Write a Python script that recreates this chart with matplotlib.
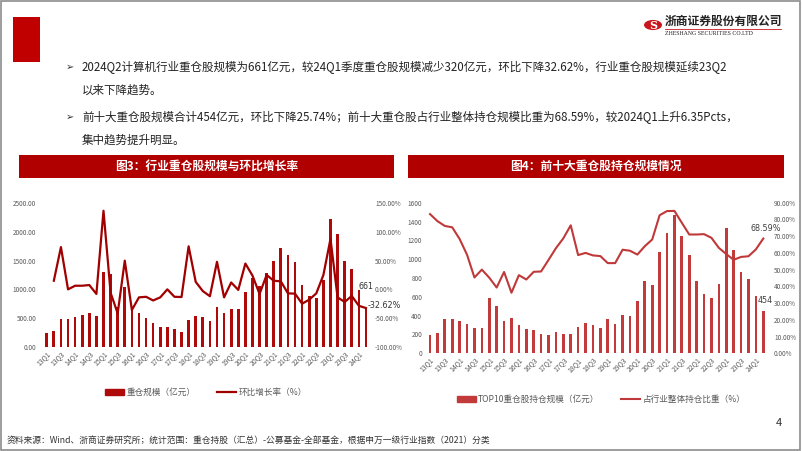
import numpy as np
import matplotlib
matplotlib.use("Agg")
import matplotlib.pyplot as plt
from matplotlib.patches import Rectangle, Circle
from matplotlib.lines import Line2D

plt.rcParams['font.family'] = ['Noto Sans CJK SC', 'DejaVu Sans']

W, H = 802, 451

# quarters 13Q1 .. 24Q2
quarters = [f"{y}Q{q}" for y in range(13, 25) for q in range(1, 5)][:46]

# Fig 3: industry heavy-holding size (100m yuan) and QoQ growth (%)
size_all = [235, 275, 477, 477, 511, 546, 592, 540, 1305, 1260,
            700, 1046, 665, 580, 506, 408, 350, 350, 305, 264,
            471, 534, 517, 454, 684, 586, 661, 655, 948, 1201,
            1058, 1293, 1500, 1724, 1592, 1477, 1075, 885, 850, 1155,
            2224, 1960, 1500, 1362, 981, 661]
qoq = [np.nan, 15, 73.6, 0, 6.3, 6.3, 7.5, -8, 137, -6,
       -42, 50, -36, -14, -13, -19.4, -14, 0, -13, -13.4,
       75, 13, -3, -12, 48, -14, 12, -1, 45, 24,
       -8, 25, 15, 14, -7, -7.5, -25, -18, -7, 25,
       88, -14, -22, -11.5, -28.7, -32.62]

# Fig 4: top10 holdings size and share of industry (%)
top10_size = [195, 220, 364, 364, 344, 311, 268, 273, 590, 498,
              339, 378, 302, 254, 247, 201, 194, 224, 210, 204,
              279, 321, 302, 265, 360, 312, 408, 397, 560, 765,
              730, 1077, 1277, 1474, 1241, 1048, 765, 632, 587, 733,
              1333, 1095, 860, 786, 605, 454]
top10_share = [83.2, 79.0, 76.1, 75.3, 68.3, 58.9, 45.3, 50.0, 45.2, 39.3,
               48.6, 36.2, 46.7, 44.1, 48.7, 48.9, 55.8, 62.8, 68.7, 76.5,
               58.7, 60.0, 58.5, 58.1, 53.9, 53.9, 61.9, 61.3, 59.0, 64.0,
               68.0, 82.5, 85.0, 85.1, 78.0, 71.0, 71.0, 71.2, 69.0, 63.0,
               59.3, 55.9, 57.6, 58.0, 62.1, 68.59]

bullet1 = ["2024Q2计算机行业重仓股规模为661亿元，较24Q1季度重仓股规模减少320亿元，环比下降32.62%，行业重仓股规模延续23Q2",
           "以来下降趋势。"]
bullet2 = ["前十大重仓股规模合计454亿元，环比下降25.74%；前十大重仓股占行业整体持仓规模比重为68.59%，较2024Q1上升6.35Pcts，",
           "集中趋势提升明显。"]
footer = "资料来源：Wind、浙商证券研究所；统计范围：重仓持股（汇总）-公募基金-全部基金，根据申万一级行业指数（2021）分类"

RED = '#B00000'
GREY = '#595959'


def fx(x):
    return x / W


def fy(y):
    return 1 - y / H


def axes_px(x0, y0, x1, y1):
    return fig.add_axes([fx(x0), fy(y1), (x1 - x0) / W, (y1 - y0) / H])


def style_axes(ax, ax2, xlabels):
    for a in (ax, ax2):
        for s in a.spines.values():
            s.set_visible(False)
        a.tick_params(length=0, labelsize=4.6, labelcolor=GREY)
    ax.set_xticks(np.arange(0, len(xlabels), 2))
    ax.set_xticklabels(xlabels[::2], rotation=45, ha='right', va='top',
                       rotation_mode='anchor', fontsize=5, color=GREY)
    ax.set_xlim(-0.5, len(xlabels) - 0.5)


fig = plt.figure(figsize=(W / 100, H / 100), dpi=100)
fig.patch.set_facecolor('white')

# slide frame and header
fig.patches.append(Rectangle((0.001, 0.002), 0.997, 0.996, transform=fig.transFigure,
                             fill=False, edgecolor='#8c8c8c', lw=1.2))
fig.patches.append(Rectangle((fx(13), fy(62)), 27 / W, 45 / H, transform=fig.transFigure,
                             facecolor='#C00000', edgecolor='none'))
fig.patches.append(Circle((fx(653), fy(25)), 9 / W, transform=fig.transFigure,
                          facecolor='#C8161D', edgecolor='none'))
fig.text(fx(653), fy(25.5), "S", color='white', fontsize=8, fontweight='bold',
         ha='center', va='center', family='DejaVu Serif')
fig.text(fx(665), fy(21), "浙商证券股份有限公司", fontsize=8.5, fontweight='bold',
         ha='left', va='center', color='#222222')
fig.lines.append(Line2D([fx(665), fx(781)], [fy(29), fy(29)], transform=fig.transFigure,
                        color='#C8161D', lw=0.6))
fig.text(fx(665), fy(33.5), "ZHESHANG SECURITIES CO.LTD", fontsize=4.2,
         ha='left', va='center', color='#222222', family='Liberation Serif')

# bullet text
for y0, lines in ((67, bullet1), (117, bullet2)):
    fig.text(fx(66), fy(y0), "➢", fontsize=7, ha='left', va='center',
             family=['DejaVu Sans'], color='#333333')
    for i, t in enumerate(lines):
        fig.text(fx(82), fy(y0 + 23 * i), t, fontsize=8.3, ha='left', va='center',
                 color='#222222')

# chart title bars
for x0, x1, title in ((19, 394, "图3：行业重仓股规模与环比增长率"),
                      (408, 784, "图4：前十大重仓股持仓规模情况")):
    fig.patches.append(Rectangle((fx(x0), fy(178)), (x1 - x0) / W, 23 / H,
                                 transform=fig.transFigure, facecolor=RED, edgecolor='none'))
    fig.text(fx((x0 + x1) / 2), fy(166.5), title, color='white', fontsize=8.5,
             fontweight='bold', ha='center', va='center')

x = np.arange(len(quarters))

# ---- Fig 3
ax1 = axes_px(43.2, 203.3, 369.5, 346.7)
ax1b = ax1.twinx()
ax1.bar(x, size_all, width=0.38, color='#AE0A0A', zorder=2)
ax1b.plot(x, qoq, color='#A00000', lw=1.6, zorder=3)
ax1.set_ylim(0, 2500)
ax1.set_yticks(np.arange(0, 2501, 500))
ax1.set_yticklabels([f"{v:.2f}" for v in np.arange(0, 2501, 500)])
ax1b.set_ylim(-100, 150)
ax1b.set_yticks(np.arange(-100, 151, 50))
ax1b.set_yticklabels([f"{v:.2f}%" for v in np.arange(-100, 151, 50)])
style_axes(ax1, ax1b, quarters)
ax1.tick_params(axis='y', pad=5)
ax1b.tick_params(axis='y', pad=4)
ax1.tick_params(axis='x', pad=2)
ax1b.set_zorder(ax1.get_zorder() + 1)
ax1b.patch.set_visible(False)
ax1.annotate(f"{size_all[-1]}", xy=(x[-1], size_all[-1]), xytext=(0, 16),
             textcoords='offset points', ha='center', va='center',
             fontsize=5.8, color='#333333', family='DejaVu Sans')
ax1b.annotate(f"{qoq[-1]:.2f}%", xy=(x[-1], qoq[-1]), xytext=(1, 1.5),
              textcoords='offset points', ha='left', va='center',
              fontsize=5.8, color='#333333', family='DejaVu Sans')
fig.legend([Rectangle((0, 0), 1, 1, color='#AE0A0A'), Line2D([], [], color='#A00000', lw=1.6)],
           ["重仓规模（亿元）", "环比增长率（%）"], ncol=2, frameon=False,
           loc='center', bbox_to_anchor=(fx(206), fy(392.5)), fontsize=6.2,
           handlelength=2.2, handleheight=0.6, columnspacing=2.5, handletextpad=0.3,
           labelcolor=GREY)

# ---- Fig 4
ax2 = axes_px(426.3, 202.7, 767.0, 353.3)
ax2b = ax2.twinx()
ax2.bar(x, top10_size, width=0.36, color='#C33A3A', zorder=2)
ax2b.plot(x, top10_share, color='#C0393A', lw=1.5, zorder=3)
ax2.set_ylim(0, 1600)
ax2.set_yticks(np.arange(0, 1601, 200))
ax2b.set_ylim(0, 90)
ax2b.set_yticks(np.arange(0, 91, 10))
ax2b.set_yticklabels([f"{v:.2f}%" for v in np.arange(0, 91, 10)])
style_axes(ax2, ax2b, quarters)
ax2.tick_params(axis='y', pad=3)
ax2b.tick_params(axis='y', pad=5)
ax2.tick_params(axis='x', pad=2)
ax2b.set_zorder(ax2.get_zorder() + 1)
ax2b.patch.set_visible(False)
ax2.annotate(f"{top10_size[-1]}", xy=(x[-1], top10_size[-1]), xytext=(1.5, 7.5),
             textcoords='offset points', ha='center', va='center',
             fontsize=5.8, color='#404040', family='DejaVu Sans')
ax2b.annotate(f"{top10_share[-1]:.2f}%", xy=(x[-1], top10_share[-1]), xytext=(1.5, 7),
              textcoords='offset points', ha='center', va='center',
              fontsize=5.8, color='#404040', family='DejaVu Sans')
fig.legend([Rectangle((0, 0), 1, 1, color='#C33A3A'), Line2D([], [], color='#C0393A', lw=1.5)],
           ["TOP10重仓股持仓规模（亿元）", "占行业整体持仓比重（%）"], ncol=2, frameon=False,
           loc='center', bbox_to_anchor=(fx(601), fy(399.5)), fontsize=6.2,
           handlelength=2.2, handleheight=0.6, columnspacing=2.5, handletextpad=0.3,
           labelcolor=GREY)

# footer
fig.text(fx(7), fy(440), footer, fontsize=6.3, ha='left', va='center', color='#333333')
fig.text(fx(779), fy(423), "4", fontsize=8, ha='center', va='center', color='#333333')

fig.savefig("out.png", dpi=100)
